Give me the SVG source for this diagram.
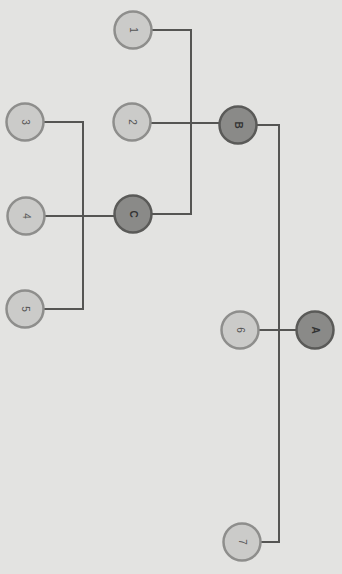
<svg xmlns="http://www.w3.org/2000/svg" width="342" height="574" viewBox="0 0 342 574">
<style>
.leaf{fill:#cbcbc9;stroke:#8e8e8c;stroke-width:2.5}
.inner{fill:#8a8a88;stroke:#5a5a58;stroke-width:2.5}
.lbl{font-family:"Liberation Sans",Arial,sans-serif;font-size:10px;fill:#555;text-anchor:middle;dominant-baseline:central}
.lblD{font-family:"Liberation Sans",Arial,sans-serif;font-size:10px;fill:#333;font-weight:bold;text-anchor:middle;dominant-baseline:central}
.edge{fill:none;stroke:#555553;stroke-width:2}
</style>
<rect width="342" height="574" fill="#e3e3e1"/>
<g id="connectors">
<polyline class="edge" points="151,30 191,30 191,214 152,214"/>
<line class="edge" x1="151" y1="123" x2="219" y2="123"/>
<polyline class="edge" points="44,122 83,122 83,309 44,309"/>
<line class="edge" x1="45" y1="216" x2="114" y2="216"/>
<polyline class="edge" points="257,125 279,125 279,542 261,542"/>
<line class="edge" x1="259" y1="330" x2="296" y2="330"/>
</g>
<g id="n1"><circle class="leaf" cx="133" cy="30" r="18.5"/><text class="lbl" transform="translate(133,30) rotate(90)">1</text></g>
<g id="n2"><circle class="leaf" cx="132" cy="122" r="18.5"/><text class="lbl" transform="translate(132,122) rotate(90)">2</text></g>
<g id="nC"><circle class="inner" cx="133" cy="214" r="18.5"/><text class="lblD" transform="translate(133,214) rotate(90)">C</text></g>
<g id="n3"><circle class="leaf" cx="25" cy="122" r="18.5"/><text class="lbl" transform="translate(25,122) rotate(90)">3</text></g>
<g id="n4"><circle class="leaf" cx="26" cy="216" r="18.5"/><text class="lbl" transform="translate(26,216) rotate(90)">4</text></g>
<g id="n5"><circle class="leaf" cx="25" cy="309" r="18.5"/><text class="lbl" transform="translate(25,309) rotate(90)">5</text></g>
<g id="nB"><circle class="inner" cx="238" cy="125" r="18.5"/><text class="lblD" transform="translate(238,125) rotate(90)">B</text></g>
<g id="n6"><circle class="leaf" cx="240" cy="330" r="18.5"/><text class="lbl" transform="translate(240,330) rotate(90)">6</text></g>
<g id="nA"><circle class="inner" cx="315" cy="330" r="18.5"/><text class="lblD" transform="translate(315,330) rotate(90)">A</text></g>
<g id="n7"><circle class="leaf" cx="242" cy="542" r="18.5"/><text class="lbl" transform="translate(242,542) rotate(90)">7</text></g>
</svg>
